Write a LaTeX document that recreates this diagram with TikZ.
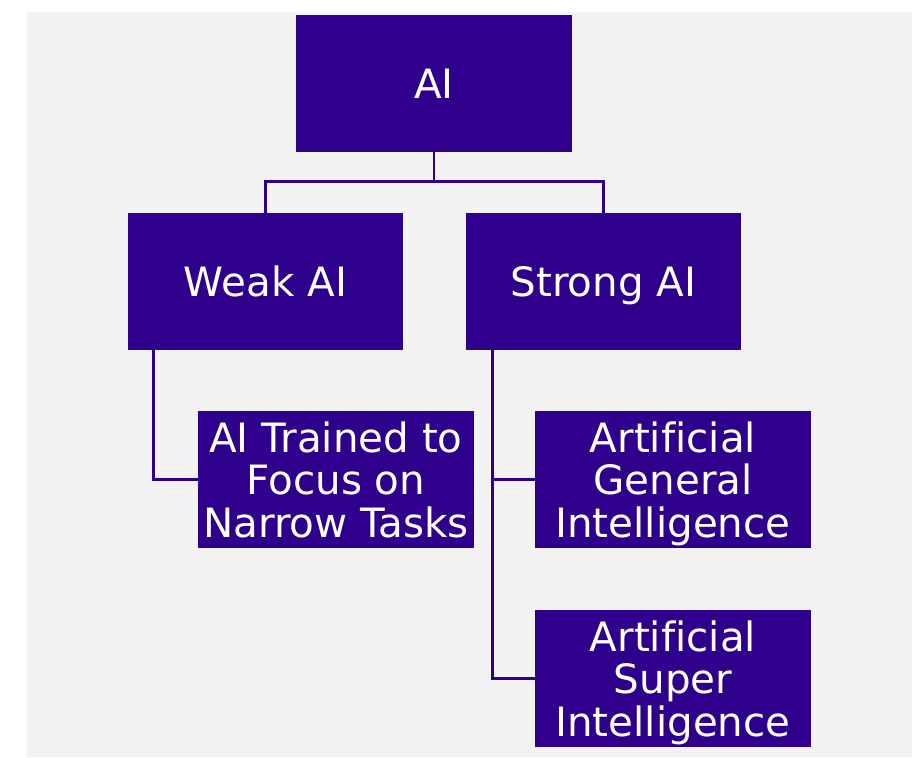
\documentclass[tikz,border=0pt]{standalone}
\usepackage{fontspec}
\setmainfont[Ligatures=NoCommon]{DejaVu Sans}

\definecolor{aipurple}{HTML}{2E008B}
\definecolor{aigrey}{HTML}{F2F2F2}

\tikzset{
    aibox/.style={fill=aipurple, text=white, minimum width=5.52cm, minimum height=2.74cm,
        inner sep=0pt, text depth=0pt, align=center, font=\fontsize{23}{24.3}\selectfont},
    aiwire/.style={draw=aipurple, line width=1.6pt}
}

\begin{document}
\begin{tikzpicture}[x=0.02cm, y=-0.02cm]
        % page and panel
        \useasboundingbox (0, 0) rectangle (922, 757);
        \fill[white] (0, 0) rectangle (922, 757);
        \fill[aigrey] (27, 12) rectangle (912, 757);

        \node[aibox] (ai) at (434, 83.5) {AI};
        \node[aibox] (weak) at (265.5, 281.5) {Weak AI};
        \node[aibox] (strong) at (603.5, 281.5) {Strong AI};
        \node[aibox] (narrow) at (336, 479.5) {AI Trained to\\Focus on\\Narrow Tasks};
        \node[aibox] (agi) at (673, 479.5) {Artificial\\General\\Intelligence};
        \node[aibox] (asi) at (673, 678.5) {Artificial\\Super\\Intelligence};

        \draw[aiwire] (ai.south) -- ++(0, 29) coordinate (split);
        \draw[aiwire] (split) -| (weak.north);
        \draw[aiwire] (split) -| (strong.north);

        \draw[aiwire] ([xshift=0.52cm] weak.south west) coordinate (weakspine) |- (narrow.west);
        \draw[aiwire] ([xshift=0.54cm] strong.south west) coordinate (strongspine) |- (asi.west);
        \draw[aiwire] (strongspine |- agi.west) -- (agi.west);
    \end{tikzpicture}
\end{document}
